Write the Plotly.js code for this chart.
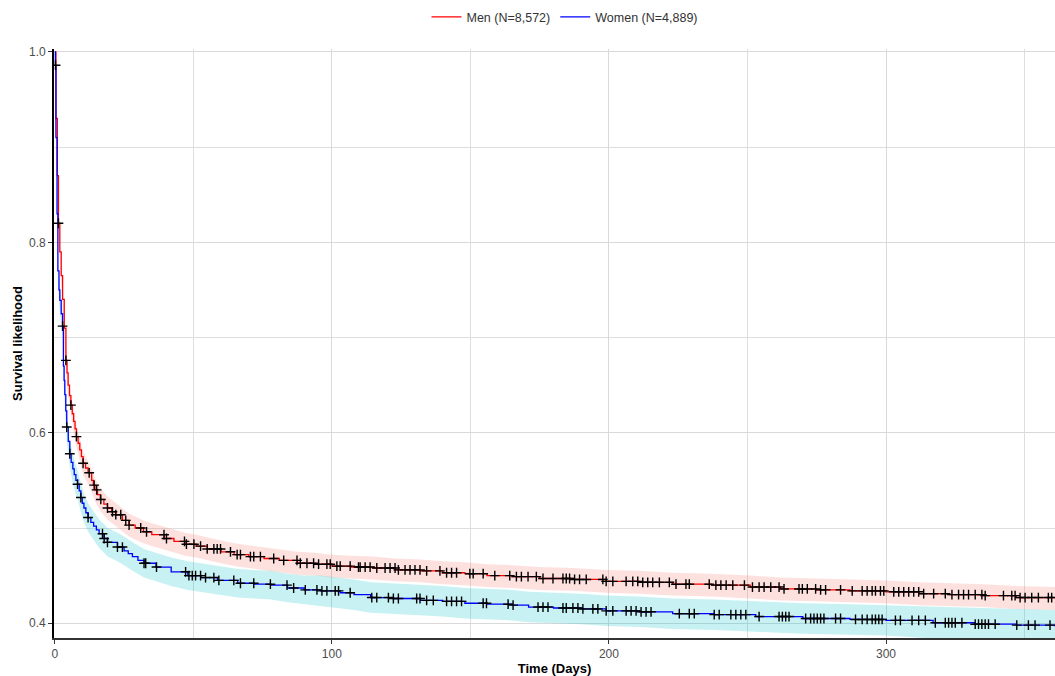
<!DOCTYPE html>
<html>
<head>
<meta charset="utf-8">
<script src="https://cdn.plot.ly/plotly-3.0.1.min.js"></script>
<style>html,body{margin:0;padding:0;background:#fff;}#chart{width:1055px;height:676px;}</style>
</head>
<body>
<div id="chart"></div>
<script>
// ---- Data ----
const menName = "Men (N=8,572)";
const womenName = "Women (N=4,889)";

// Kaplan-Meier step curves
const menT = [0, 0.4, 0.9, 1.3, 1.8, 2.3, 2.8, 3.4, 4.0, 4.4, 4.8, 5.3, 5.8, 6.3, 6.8, 7.3, 7.8, 8.4, 9.0, 9.6, 10.2, 11.1, 12, 13.3, 13.9, 14.5, 15.4, 16.4, 17.7, 19, 20.5, 22, 24.4, 26.8, 29, 32, 35, 39.5, 43, 47, 51, 55, 60, 64.7, 70, 75.5, 81, 87.6, 94, 100, 107, 115, 123, 132, 140, 148, 156, 165, 175, 187, 199, 211, 223, 237, 251, 262, 275, 287, 300, 312, 323, 335, 347, 361];
const menS = [1.0, 0.93, 0.87, 0.82, 0.79, 0.765, 0.74, 0.71, 0.676, 0.663, 0.65, 0.639, 0.629, 0.620, 0.612, 0.604, 0.596, 0.589, 0.582, 0.575, 0.568, 0.563, 0.558, 0.55, 0.545, 0.54, 0.535, 0.53, 0.525, 0.521, 0.517, 0.514, 0.508, 0.503, 0.500, 0.496, 0.493, 0.489, 0.486, 0.483, 0.481, 0.478, 0.475, 0.472, 0.470, 0.468, 0.466, 0.463, 0.462, 0.460, 0.459, 0.458, 0.456, 0.455, 0.453, 0.452, 0.450, 0.449, 0.447, 0.446, 0.444, 0.443, 0.441, 0.440, 0.438, 0.436, 0.435, 0.434, 0.433, 0.431, 0.430, 0.429, 0.427, 0.426];

const womenT = [0, 0.2, 0.4, 0.8, 1.1, 1.5, 1.8, 2.3, 2.8, 3.1, 3.35, 3.6, 3.95, 4.3, 4.85, 5.4, 5.9, 6.5, 7.0, 7.6, 8.2, 8.8, 9.4, 9.9, 10.5, 11.2, 12, 13, 14, 15, 16, 17.8, 19, 22.6, 25, 26.5, 28, 30, 32.2, 36.5, 42, 48, 52.7, 58.7, 66, 72, 78, 84, 90, 96, 103, 108, 114, 122, 132, 140, 148, 156, 165, 171, 180, 190, 199, 211, 223, 238, 253, 270, 287, 300, 317, 332, 347, 361];
const womenS = [1.0, 0.986, 0.91, 0.83, 0.77, 0.75, 0.739, 0.725, 0.712, 0.67, 0.655, 0.64, 0.623, 0.606, 0.591, 0.578, 0.569, 0.562, 0.556, 0.55, 0.546, 0.539, 0.532, 0.526, 0.521, 0.516, 0.511, 0.506, 0.502, 0.498, 0.494, 0.489, 0.485, 0.48, 0.476, 0.473, 0.47, 0.466, 0.463, 0.459, 0.454, 0.45, 0.448, 0.445, 0.442, 0.441, 0.44, 0.437, 0.435, 0.434, 0.432, 0.430, 0.427, 0.426, 0.424, 0.423, 0.421, 0.420, 0.419, 0.417, 0.416, 0.415, 0.413, 0.412, 0.410, 0.409, 0.407, 0.405, 0.404, 0.403, 0.4005, 0.399, 0.398, 0.3966];

// confidence bands
const menBandT = [0, 0.4, 0.9, 1.3, 1.8, 2.3, 2.8, 3.4, 4.0, 4.8, 5.8, 6.8, 7.8, 9.0, 10.2, 12, 13.3, 14.5, 16.4, 19, 22, 24.4, 26.8, 29, 32, 35, 39.5, 43, 47, 51, 55, 60, 64.7, 70, 75.5, 81, 87.6, 94, 100, 107, 115, 123, 132, 140, 148, 156, 165, 175, 187, 199, 211, 223, 237, 251, 262, 275, 287, 300, 312, 323, 335, 347, 361];
const menUpper = [1.0, 0.936, 0.877, 0.828, 0.799, 0.775, 0.750, 0.721, 0.687, 0.661, 0.640, 0.623, 0.607, 0.594, 0.580, 0.570, 0.562, 0.552, 0.542, 0.533, 0.526, 0.520, 0.515, 0.512, 0.508, 0.505, 0.501, 0.498, 0.495, 0.493, 0.490, 0.487, 0.484, 0.482, 0.480, 0.478, 0.475, 0.474, 0.472, 0.471, 0.470, 0.468, 0.467, 0.465, 0.464, 0.462, 0.461, 0.459, 0.458, 0.456, 0.455, 0.453, 0.452, 0.450, 0.448, 0.447, 0.446, 0.445, 0.443, 0.442, 0.441, 0.439, 0.438];
const menLower = [1.0, 0.924, 0.863, 0.812, 0.781, 0.755, 0.730, 0.699, 0.665, 0.639, 0.618, 0.601, 0.585, 0.570, 0.556, 0.546, 0.538, 0.528, 0.518, 0.509, 0.502, 0.496, 0.491, 0.488, 0.484, 0.481, 0.477, 0.474, 0.471, 0.469, 0.466, 0.463, 0.460, 0.458, 0.456, 0.454, 0.451, 0.450, 0.448, 0.447, 0.446, 0.444, 0.443, 0.441, 0.440, 0.438, 0.437, 0.435, 0.434, 0.432, 0.431, 0.429, 0.428, 0.426, 0.424, 0.423, 0.422, 0.421, 0.419, 0.418, 0.417, 0.415, 0.414];

const womenBandT = [0, 0.2, 0.4, 0.8, 1.1, 1.5, 1.8, 2.3, 2.8, 3.1, 3.6, 4.3, 5.4, 6.5, 7.6, 8.2, 9.4, 10.5, 12, 14, 16, 17.8, 19, 22.6, 25, 28, 32.2, 36.5, 42, 48, 52.7, 58.7, 66, 72, 78, 84, 90, 96, 103, 108, 114, 122, 132, 140, 148, 156, 165, 171, 180, 190, 199, 211, 223, 238, 253, 270, 287, 300, 317, 332, 347, 361];
const womenUpper = [1.0, 0.990, 0.918, 0.841, 0.782, 0.762, 0.752, 0.738, 0.725, 0.684, 0.654, 0.620, 0.592, 0.577, 0.565, 0.561, 0.547, 0.536, 0.526, 0.517, 0.509, 0.504, 0.500, 0.495, 0.491, 0.485, 0.478, 0.474, 0.469, 0.465, 0.463, 0.460, 0.457, 0.456, 0.455, 0.452, 0.450, 0.450, 0.448, 0.446, 0.443, 0.442, 0.440, 0.439, 0.437, 0.436, 0.435, 0.433, 0.432, 0.431, 0.429, 0.428, 0.426, 0.425, 0.423, 0.421, 0.420, 0.419, 0.417, 0.416, 0.415, 0.414];
const womenLower = [1.0, 0.982, 0.902, 0.819, 0.758, 0.738, 0.726, 0.712, 0.699, 0.656, 0.626, 0.592, 0.564, 0.547, 0.535, 0.531, 0.517, 0.506, 0.496, 0.487, 0.479, 0.474, 0.470, 0.465, 0.461, 0.455, 0.448, 0.444, 0.439, 0.435, 0.433, 0.430, 0.427, 0.426, 0.425, 0.422, 0.420, 0.418, 0.416, 0.414, 0.411, 0.410, 0.408, 0.407, 0.405, 0.404, 0.403, 0.401, 0.400, 0.399, 0.397, 0.396, 0.394, 0.393, 0.391, 0.389, 0.388, 0.387, 0.384, 0.382, 0.381, 0.379];

// censoring times
const menCensor = [1.3, 4.0, 5.8, 7.8, 10.2, 12.4, 14.2, 15.1, 16.6, 19, 20.8, 22, 23.8, 25.6, 26.8, 31, 33.1, 39.4, 40.3, 46.8, 47.5, 50.2, 52.6, 55, 57.4, 58.6, 59.8, 63.4, 65.8, 67, 70.6, 71.8, 74.2, 79, 82.6, 87.4, 88.6, 91, 93.4, 95.2, 98.2, 99.4, 101.8, 103, 106.6, 109.6, 110.2, 112, 113.8, 116.2, 119.2, 121, 122.8, 124, 126.4, 128.2, 130, 131.8, 134.2, 139, 141.4, 143.2, 145, 149.8, 151, 154.6, 158.8, 164.2, 166.6, 168.4, 170.8, 173.8, 176.2, 179.8, 183.4, 184.6, 185.8, 187.6, 189.4, 191.8, 197.8, 199, 201.4, 206.2, 208.6, 210.4, 212.2, 214, 215.8, 218.2, 221.8, 224.2, 227.8, 229, 236.2, 238.6, 240.4, 242.3, 244.7, 248.9, 251.8, 254.2, 256, 258.4, 261.4, 263.2, 268.6, 269.8, 271.6, 274.6, 276.4, 278.2, 283.6, 287.8, 291.4, 293.2, 295, 296.2, 298, 299.2, 302.8, 304.6, 306.4, 308.2, 310, 311.8, 313.6, 317.2, 321.4, 323.8, 326.2, 328, 329.8, 332.2, 334.6, 335.8, 342.4, 345.4, 346.6, 348.4, 350.2, 352.6, 355, 358.6, 359.8];
const womenCensor = [0.25, 2.8, 4.3, 5.4, 8.2, 9.4, 12, 17.2, 17.8, 19, 22.6, 24.4, 32.2, 32.8, 36.7, 47.2, 48.4, 49.6, 50.8, 52.6, 54.4, 57.4, 59.2, 64.6, 67, 71.8, 77.8, 83.8, 86.2, 90.4, 94.6, 96.4, 98.2, 101.2, 102.4, 106.6, 114.4, 116.2, 120.4, 122.2, 124, 130.6, 131.8, 134.2, 136.6, 141.4, 143.2, 145, 146.8, 154.6, 155.8, 163.6, 165.4, 174.4, 176.2, 178, 183.4, 184.6, 187, 188.8, 190.6, 194.2, 196, 199, 201.4, 206.2, 208, 209.8, 211.6, 213.4, 215.2, 225.4, 229, 230.8, 238, 239.8, 244, 245.8, 247.6, 249.4, 254.2, 261.4, 262.6, 263.8, 265, 271, 272.8, 274, 275.2, 276.4, 277.6, 281.8, 283.6, 289, 291.4, 293.2, 295, 296.2, 297.4, 298.6, 303.4, 305.2, 309.4, 311.8, 314.2, 317.8, 321.4, 322.6, 323.8, 325, 327.4, 332.2, 333.4, 334.6, 335.8, 337, 339.4, 347.2, 351.4, 353.8, 359.2];

const xTickVals = [0, 100, 200, 300];
const yTickVals = [0.4, 0.6, 0.8, 1.0];
const yTickText = ["0.4", "0.6", "0.8", "1.0"];

// survival value of a step curve at time t (value of last step at or before t)
function stepAt(T, S, t) {
  let v = S[0];
  for (let i = 0; i < T.length; i++) { if (T[i] <= t) v = S[i]; }
  return v;
}

const FONT = "Liberation Sans, Arial, sans-serif";
const traces = [];

function addBand(T, lo, up, fillColor) {
  traces.push({x: T, y: lo, mode: "lines", line: {width: 0, shape: "linear"}, showlegend: false, hoverinfo: "skip"});
  traces.push({x: T, y: up, mode: "lines", line: {width: 0, shape: "linear"}, fill: "tonexty", fillcolor: fillColor, showlegend: false, hoverinfo: "skip"});
}
addBand(menBandT, menLower, menUpper, "rgba(248,118,109,0.22)");
addBand(womenBandT, womenLower, womenUpper, "rgba(0,191,196,0.22)");

traces.push({x: menT, y: menS, name: menName, mode: "lines", line: {color: "#FF0000", width: 1.3, shape: "hv"}});
traces.push({x: womenT, y: womenS, name: womenName, mode: "lines", line: {color: "#0000FF", width: 1.3, shape: "hv"}});

const censorMarker = {symbol: "cross-thin", size: 7, color: "#000", line: {color: "#000", width: 1.4}};
traces.push({x: menCensor, y: menCensor.map(t => stepAt(menT, menS, t)), mode: "markers", showlegend: false, marker: censorMarker});
traces.push({x: womenCensor, y: womenCensor.map(t => stepAt(womenT, womenS, t)), mode: "markers", showlegend: false, marker: censorMarker});

const layout = {
  width: 1055, height: 676,
  paper_bgcolor: "#fff", plot_bgcolor: "#fff",
  font: {family: FONT, size: 12, color: "#444"},
  margin: {l: 54, r: 0, t: 49, b: 38, pad: 0},
  showlegend: true,
  legend: {orientation: "h", traceorder: "normal", x: 0.51, xanchor: "center", y: 1.054, yanchor: "middle",
    font: {family: FONT, size: 12.5, color: "#333"}, bgcolor: "rgba(0,0,0,0)"},
  xaxis: {
    range: [-0.3, 361], tickvals: xTickVals, ticktext: xTickVals.map(String),
    showgrid: true, gridcolor: "#d9d9d9", gridwidth: 1.3,
    minor: {dtick: 50, tick0: 0, showgrid: true, gridcolor: "#dedede", gridwidth: 1.1, ticks: ""},
    zeroline: false, showline: true, linecolor: "#333", linewidth: 1.6,
    ticks: "outside", ticklen: 4, tickcolor: "#333", tickwidth: 1.2,
    tickfont: {family: FONT, size: 12, color: "#4d4d4d"},
    title: {text: "<b>Time (Days)</b>", font: {family: FONT, size: 13, color: "#000"}, standoff: 4}
  },
  yaxis: {
    range: [0.3845, 1.003], tickvals: yTickVals, ticktext: yTickText,
    showgrid: true, gridcolor: "#d9d9d9", gridwidth: 1.3,
    minor: {dtick: 0.1, tick0: 0.4, showgrid: true, gridcolor: "#dedede", gridwidth: 1.1, ticks: ""},
    zeroline: false, showline: true, linecolor: "#000", linewidth: 1.6,
    ticks: "outside", ticklen: 4, tickcolor: "#333", tickwidth: 1.2,
    tickfont: {family: FONT, size: 12, color: "#4d4d4d"},
    title: {text: "<b>Survival likelihood</b>", font: {family: FONT, size: 13, color: "#000"}, standoff: 4}
  }
};

Plotly.newPlot("chart", traces, layout, {displayModeBar: false, responsive: false});
</script>
</body>
</html>
